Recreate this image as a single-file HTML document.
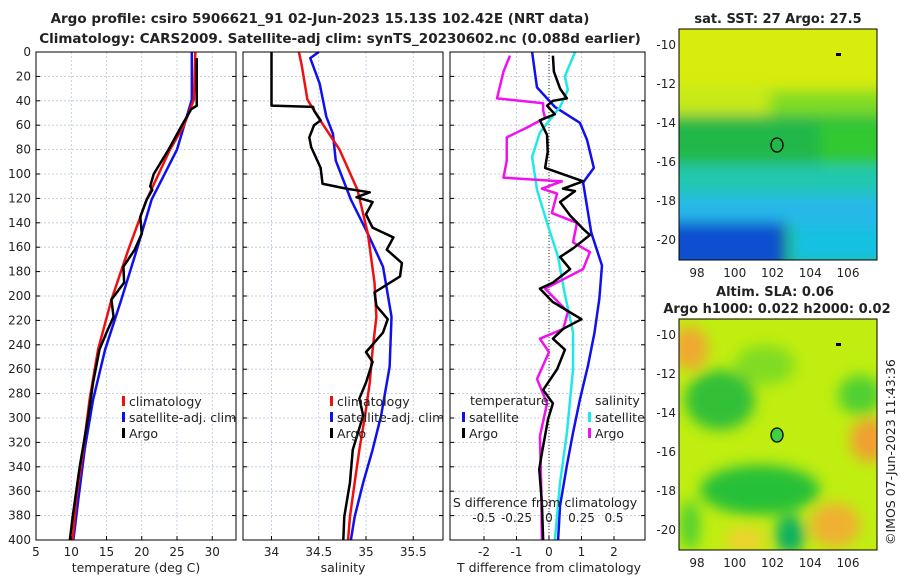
<!DOCTYPE html>
<html><head><meta charset="utf-8"><style>
body{margin:0;background:#fff;width:900px;height:580px;overflow:hidden;font-family:"Liberation Sans",sans-serif}
svg text{font-family:"DejaVu Sans","Liberation Sans",sans-serif;fill:#222}
</style></head><body>
<svg id="c" width="900" height="580">
<defs>
<filter id="bl" x="-20%" y="-20%" width="140%" height="140%"><feGaussianBlur stdDeviation="7"/></filter>
<clipPath id="m1c"><rect x="679" y="29" width="198" height="231"/></clipPath>
<clipPath id="m2c"><rect x="679" y="319" width="198" height="231"/></clipPath>
</defs>
<text x="320" y="23" text-anchor="middle" font-size="13.5" font-weight="bold">Argo profile: csiro 5906621_91 02-Jun-2023 15.13S 102.42E (NRT data)</text>
<text x="340" y="43" text-anchor="middle" font-size="13.5" font-weight="bold">Climatology: CARS2009. Satellite-adj clim: synTS_20230602.nc (0.088d earlier)</text>
<g id="maps">
<g clip-path="url(#m1c)">
<rect x="679" y="29" width="198" height="231" fill="#30c040"/>
<g filter="url(#bl)">
<rect x="660" y="10" width="240" height="80" fill="#d8ec10"/>
<rect x="660" y="85" width="110" height="30" fill="#c8ea18"/>
<rect x="770" y="90" width="130" height="30" fill="#80dc20"/>
<rect x="660" y="115" width="240" height="50" fill="#22b848"/>
<rect x="820" y="120" width="80" height="50" fill="#30c830"/>
<rect x="660" y="165" width="240" height="35" fill="#20c8b0"/>
<rect x="660" y="195" width="240" height="30" fill="#28b8e8"/>
<rect x="660" y="222" width="125" height="50" fill="#1050d0"/>
<rect x="790" y="225" width="110" height="40" fill="#18c0e0"/>
</g>
<ellipse cx="777" cy="145" rx="6" ry="7" fill="none" stroke="#000" stroke-width="1.3"/>
<rect x="836" y="53" width="5" height="3" fill="#000"/>
</g>
<rect x="679" y="29" width="198" height="231" fill="none" stroke="#000"/>
<text x="778" y="23" text-anchor="middle" font-size="13" font-weight="bold">sat. SST: 27 Argo: 27.5</text>
<g clip-path="url(#m2c)">
<rect x="679" y="319" width="198" height="231" fill="#c0ee10"/>
<g filter="url(#bl)">
<ellipse cx="690" cy="348" rx="18" ry="22" fill="#f0a830"/>
<ellipse cx="720" cy="400" rx="35" ry="30" fill="#30c038"/>
<ellipse cx="765" cy="365" rx="30" ry="20" fill="#80dc20"/>
<ellipse cx="760" cy="490" rx="60" ry="25" fill="#28c038"/>
<ellipse cx="790" cy="535" rx="15" ry="20" fill="#10b060"/>
<ellipse cx="870" cy="440" rx="20" ry="22" fill="#f0a030"/>
<ellipse cx="835" cy="525" rx="25" ry="22" fill="#f0b030"/>
<ellipse cx="745" cy="540" rx="20" ry="12" fill="#f0d030"/>
<ellipse cx="860" cy="395" rx="22" ry="20" fill="#50d030"/>
<ellipse cx="690" cy="525" rx="10" ry="25" fill="#50d030"/>
</g>
<ellipse cx="777" cy="435" rx="6" ry="7" fill="#40d040" stroke="#000" stroke-width="1.3"/>
<rect x="836" y="343" width="5" height="3" fill="#000"/>
</g>
<rect x="679" y="319" width="198" height="231" fill="none" stroke="#000"/>
<text x="775" y="296" text-anchor="middle" font-size="13" font-weight="bold">Altim. SLA: 0.06</text>
<text x="777" y="313" text-anchor="middle" font-size="13" font-weight="bold">Argo h1000: 0.022 h2000: 0.02</text>
<text transform="translate(895,545) rotate(-90)" font-size="12.5">©IMOS 07-Jun-2023 11:43:36</text>
</g>
</svg>
<script>
// ---- data ----
const tDepth=[5,44,47,60,80,100,110,113,121,135,149,162,176,189,203,217,230,244,271,299,340,381,400];
const tArgo=[27.8,27.8,27.0,25.7,23.8,21.7,21.2,21.5,20.7,19.8,20.0,19.0,17.4,17.5,15.7,16.0,15.0,14.0,13.1,12.4,11.2,10.2,9.8];
const cDepth=[0,39,60,80,121,162,203,244,285,326,367,400];
const tClim=[27.6,27.4,26.0,24.0,20.7,18.1,15.7,13.8,12.6,11.7,10.7,10.2];
const sDepthT=[0,39,80,121,162,203,244,285,326,367,400];
const tSat=[27.1,27.1,25.0,21.4,19.3,17.1,14.8,13.1,11.9,11.0,10.3];
const sDepth=[0,44,45,48,56,60,70,78,95,108,112,115,119,123,133,144,152,162,173,184,197,208,219,230,246,254,271,284,298,326,353,381,400];
const sArgo=[34.0,34.0,34.44,34.45,34.52,34.45,34.4,34.42,34.52,34.54,34.79,35.04,34.9,35.07,35.0,35.07,35.29,35.22,35.38,35.36,35.09,35.11,35.23,35.18,35.0,35.07,35.0,34.93,34.97,34.86,34.83,34.77,34.76];
const scDepth=[0,11,39,53,80,113,149,189,217,244,271,298,326,353,381,400];
const sClim=[34.29,34.32,34.38,34.49,34.72,34.91,35.02,35.09,35.11,35.07,35.04,34.99,34.93,34.88,34.83,34.81];
const sSatDepth=[0,5,26,53,67,89,121,149,176,217,258,298,326,353,381,400];
const sSat=[34.5,34.41,34.51,34.58,34.65,34.68,34.84,35.02,35.18,35.27,35.25,35.16,35.07,34.97,34.88,34.84];
const dtSatDepth=[0,29,45,58,72,95,107,148,175,202,230,257,285,312,339,372,400];
const dtSat=[-0.52,-0.37,0.18,0.95,1.17,1.38,1.05,1.3,1.63,1.55,1.4,1.2,0.95,0.74,0.55,0.34,0.28];
const dsSatDepth=[0,20,31,45,66,86,113,140,168,195,230,260,312,353,400];
const dsSat=[0.2,0.122,0.145,0.085,-0.07,-0.13,-0.092,-0.015,0.07,0.115,0.185,0.185,0.138,0.085,0.045];
const dtArgoDepth=[3,16,30,38,40,44,51,56,68,82,95,106,112,114,123,134,145,150,161,168,178,189,194,205,219,227,235,244,260,277,288,301,329,342,369,400];
const dtArgo=[0.12,0.15,0.34,0.55,0.12,-0.06,0.18,-0.28,-0.06,-0.04,-0.12,1.05,0.43,0.8,0.34,0.65,1.05,1.26,0.74,0.34,0.65,0.12,-0.28,0.12,1.0,0.43,0.12,0.49,0.25,-0.18,0.12,-0.03,-0.22,-0.3,-0.22,-0.18];
const dsArgoDepth=[3,16,38,42,48,54,62,70,89,103,106,112,116,132,140,156,164,178,194,213,227,235,246,268,288,315,355,400];
const dsArgo=[-0.3,-0.35,-0.4,-0.045,-0.045,-0.03,-0.17,-0.325,-0.325,-0.35,0.1,-0.055,0.062,0.022,0.215,0.185,0.315,0.262,-0.03,0.145,0.11,-0.07,0.0,-0.092,-0.015,-0.07,-0.06,-0.055];
const depthTicks=[0,20,40,60,80,100,120,140,160,180,200,220,240,260,280,300,320,340,360,380,400];
const tTicks=[5,10,15,20,25,30];
const sTicks=[34,34.5,35,35.5];
const dtTicks=[-2,-1,0,1,2];
const dsTicks=[-0.5,-0.25,0,0.25,0.5];
const lonTicks=[98,100,102,104,106];
const latTicks=[-10,-12,-14,-16,-18,-20];

const NS='http://www.w3.org/2000/svg';
const svg=document.getElementById('c');
const maps=document.getElementById('maps');
function mk(t,a,p){const e=document.createElementNS(NS,t);for(const k in a)e.setAttribute(k,a[k]);if(p)p.appendChild(e);else svg.insertBefore(e,maps);return e;}
const Y0=52,Y1=540;
const yD=d=>Y0+d*(Y1-Y0)/400;
const xT=v=>36+(v-5)*7.05;
const xS=v=>271.5+(v-34)*94.5;
const xDT=v=>549+v*32.5;
const xDS=v=>549+v*4*32.5;
const panels=[[36,236],[243,443],[450,645]];
function grid(x0,x1,xt,fx,name){
  const g=mk('g',{});
  
  
  depthTicks.forEach(d=>{mk('line',{x1:x0,x2:x1,y1:yD(d),y2:yD(d),stroke:'#b8c4dc','stroke-dasharray':'2,2','stroke-width':0.8},g);});
  xt.forEach(v=>{mk('line',{x1:fx(v),x2:fx(v),y1:Y0,y2:Y1,stroke:'#b8c4dc','stroke-dasharray':'2,2','stroke-width':0.8},g);});
}
grid(36,236,tTicks,xT,'temperature');
grid(243,443,sTicks,xS,'salinity');
grid(450,645,dtTicks,xDT,'difference');
mk('line',{x1:549,x2:549,y1:Y0,y2:Y1,stroke:'#333','stroke-dasharray':'1,2'});
function line(ds,vs,fx,col,name){
  const p=mk('polyline',{points:ds.map((d,i)=>fx(vs[i])+','+yD(d)).join(' '),fill:'none',stroke:col,'stroke-width':2.5,'stroke-linejoin':'round'});
  
  
}
line(sDepthT,tSat,xT,'#1010ee','temp-satellite-line');
line(cDepth,tClim,xT,'#ee1010','temp-climatology-line');
line(tDepth,tArgo,xT,'#000','temp-argo-line');
line(sSatDepth,sSat,xS,'#1010ee','sal-satellite-line');
line(scDepth,sClim,xS,'#ee1010','sal-climatology-line');
line(sDepth,sArgo,xS,'#000','sal-argo-line');
line(dtSatDepth,dtSat,xDT,'#1010ee','tdiff-satellite-line');
line(dsSatDepth,dsSat,xDS,'#20e8e8','sdiff-satellite-line');
line(dsArgoDepth,dsArgo,xDS,'#f010f0','sdiff-argo-line');
line(dtArgoDepth,dtArgo,xDT,'#000','tdiff-argo-line');
panels.forEach((p,i)=>{
  const r=mk('rect',{x:p[0],y:Y0,width:p[1]-p[0],height:Y1-Y0,fill:'none',stroke:'#000','stroke-width':1});
  
  
  depthTicks.forEach(d=>{mk('line',{x1:p[0],x2:p[0]+4,y1:yD(d),y2:yD(d),stroke:'#000'});mk('line',{x1:p[1],x2:p[1]-4,y1:yD(d),y2:yD(d),stroke:'#000'});});
});
function txt(x,y,s,anchor,size,name){const t=mk('text',{x:x,y:y,'text-anchor':anchor||'middle','font-size':size||12});t.textContent=s;
  
  return t;}
depthTicks.forEach(d=>txt(31,yD(d)+4,String(d),'end',12,'depth-tick-label'));
tTicks.forEach(v=>{mk('line',{x1:xT(v),x2:xT(v),y1:Y1,y2:Y1-4,stroke:'#000'});txt(xT(v),556,String(v),'middle',12,'temp-tick-label');});
sTicks.forEach(v=>{mk('line',{x1:xS(v),x2:xS(v),y1:Y1,y2:Y1-4,stroke:'#000'});txt(xS(v),556,String(v),'middle',12,'sal-tick-label');});
dtTicks.forEach(v=>{mk('line',{x1:xDT(v),x2:xDT(v),y1:Y1,y2:Y1-4,stroke:'#000'});txt(xDT(v),556,String(v),'middle',12,'tdiff-tick-label');});
dsTicks.forEach(v=>txt(xDS(v),522,String(v),'middle',12,'sdiff-tick-label'));
txt(136,572,'temperature (deg C)','middle',12.5,'temp-axis-title');
txt(343,572,'salinity','middle',12.5,'sal-axis-title');
txt(549,572,'T difference from climatology','middle',12.5,'tdiff-axis-title');
txt(545,507,'S difference from climatology','middle',12.5,'sdiff-axis-title');
function leg(x,y,col,s,name){mk('rect',{x:x,y:y-9,width:3,height:10,fill:col});txt(x+7,y+1,s,'start',12.5,name);}
leg(122,405,'#ee1010','climatology','legend-climatology');
leg(122,421,'#1010ee','satellite-adj. clim','legend-satellite');
leg(122,437,'#000','Argo','legend-argo');
leg(330,405,'#ee1010','climatology','legend-sal-climatology');
leg(330,421,'#1010ee','satellite-adj. clim','legend-sal-satellite');
leg(330,437,'#000','Argo','legend-sal-argo');
txt(470,405,'temperature','start',12.5,'legend-temp-heading');
leg(462,421,'#1010ee','satellite','legend-tdiff-satellite');
leg(462,437,'#000','Argo','legend-tdiff-argo');
txt(595,405,'salinity','start',12.5,'legend-sal-heading');
leg(588,421,'#20e8e8','satellite','legend-sdiff-satellite');
leg(588,437,'#f010f0','Argo','legend-sdiff-argo');
const mx=v=>697+(v-98)*18.875;
[[29,260,45],[319,550,335]].forEach((m,i)=>{
  lonTicks.forEach(v=>{mk('line',{x1:mx(v),x2:mx(v),y1:m[1],y2:m[1]-4,stroke:'#000'});mk('line',{x1:mx(v),x2:mx(v),y1:m[0],y2:m[0]+4,stroke:'#000'});});
  latTicks.forEach(v=>{const y=m[2]+(-10-v)*19.5;mk('line',{x1:679,x2:683,y1:y,y2:y,stroke:'#000'});mk('line',{x1:877,x2:873,y1:y,y2:y,stroke:'#000'});txt(676,y+4,String(v),'end',12,'map-lat-label');});
  lonTicks.forEach(v=>txt(mx(v),m[1]+17,String(v),'middle',12,'map-lon-label'));
});
</script>
</body></html>
